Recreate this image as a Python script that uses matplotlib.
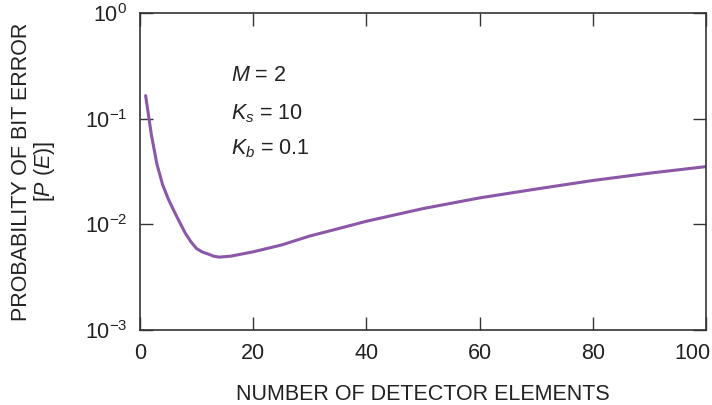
import matplotlib
matplotlib.use("Agg")
import matplotlib.pyplot as plt
from matplotlib.ticker import LogLocator, NullLocator
from matplotlib.transforms import ScaledTranslation

plt.rcParams['font.family'] = ['Liberation Sans', 'DejaVu Sans']
plt.rcParams['mathtext.fontset'] = 'custom'
plt.rcParams['mathtext.rm'] = 'Liberation Sans'
plt.rcParams['mathtext.it'] = 'Liberation Sans:italic'

# error probability vs number of detector elements (M=2, Ks=10, Kb=0.1)
detectores = [1, 2, 3, 4, 5, 6, 7, 8, 9, 10, 11, 12, 13, 14, 16, 20, 25, 30,
              35, 40, 50, 60, 70, 80, 90, 100]
prob_error = [0.165, 0.071, 0.037, 0.0237, 0.0174, 0.0134, 0.0105, 0.00826,
              0.00684, 0.0059, 0.00548, 0.00525, 0.0050, 0.0049, 0.0050,
              0.0055, 0.00638, 0.00776, 0.0091, 0.0107, 0.0141, 0.0178,
              0.0216, 0.0260, 0.0305, 0.0352]

texto = '#222222'
gris = '#333333'
fs = 15.5

fig = plt.figure(figsize=(7.12, 4.05), dpi=100)
ax = fig.add_axes([0.1966, 0.185, 0.795, 0.783])

ax.plot(detectores, prob_error, color='#8b57a8', lw=2.2, solid_capstyle='round')

ax.set_yscale('log')
ax.set_xlim(0, 100)
ax.set_ylim(1e-3, 1)
ax.set_xticks([0, 20, 40, 60, 80, 100])
ax.yaxis.set_major_locator(LogLocator(base=10, numticks=10))
ax.yaxis.set_minor_locator(NullLocator())

ax.tick_params(direction='in', length=9.5, width=1.0, color=gris,
               top=True, right=True, labelsize=fs, labelcolor=texto)
ax.tick_params(axis='x', pad=9)
ax.tick_params(axis='y', pad=9)
for s in ax.spines.values():
    s.set_color(gris)
    s.set_linewidth(1.2)

# pull the "100" label inside so it is not clipped at the figure edge
fig.canvas.draw()
ultimo = ax.get_xticklabels()[-1]
ultimo.set_transform(ultimo.get_transform() + ScaledTranslation(-10 / 72, 0, fig.dpi_scale_trans))

ax.set_xlabel('NUMBER OF DETECTOR ELEMENTS', fontsize=fs, color=texto, labelpad=15)
ax.set_ylabel('PROBABILITY OF BIT ERROR\n[$P$ ($E$)]', fontsize=fs, color=texto,
              labelpad=20, linespacing=1.0)

ax.text(16, 0.255, '$M$ = 2', fontsize=fs, color=texto, va='center')
ax.text(16, 0.111, '$K_s$ = 10', fontsize=fs, color=texto, va='center')
ax.text(16, 0.052, '$K_b$ = 0.1', fontsize=fs, color=texto, va='center')

fig.savefig('out.png', dpi=100)
